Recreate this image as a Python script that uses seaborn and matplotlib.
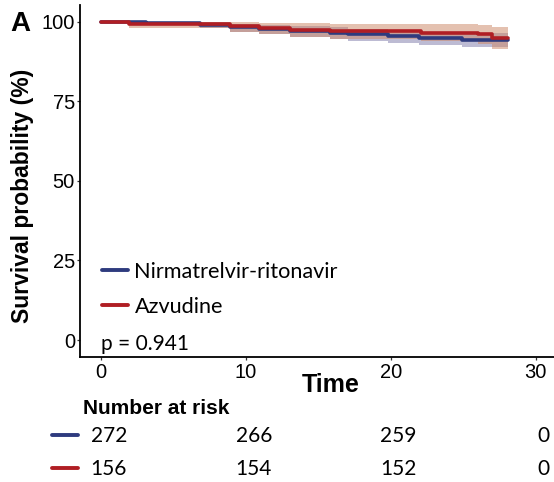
import matplotlib
matplotlib.use("Agg")
import matplotlib.pyplot as plt
from matplotlib.lines import Line2D
from matplotlib.transforms import blended_transform_factory
import numpy as np
import pandas as pd
import seaborn as sns

# ---------------- data ----------------
groups = ["Nirmatrelvir-ritonavir", "Azvudine"]
end_time = 28.1

nr_times = [0, 3.1, 6.8, 8.9, 10.9, 13.0, 15.8, 17.0, 19.8, 21.9, 24.9]
nr_surv = [100, 99.6, 99.0, 98.3, 97.6, 97.0, 96.6, 96.0, 95.5, 94.8, 94.2]
nr_upper = [100, 100, 99.8, 99.4, 98.9, 98.5, 98.2, 97.8, 97.4, 96.9, 96.4]
nr_lower = [100, 98.9, 97.9, 96.9, 96.0, 95.2, 94.7, 94.0, 93.4, 92.6, 91.9]

az_times = [0, 1.9, 8.9, 10.9, 13.0, 15.8, 22.1, 26.0, 27.0]
az_surv = [100, 99.3, 98.6, 98.1, 97.5, 97.2, 96.6, 96.0, 94.8]
az_upper = [100, 100, 99.9, 99.7, 99.5, 99.4, 99.2, 98.9, 98.2]
az_lower = [100, 98.0, 96.8, 96.0, 95.1, 94.6, 93.8, 93.0, 91.4]

risk_times = [0, 10, 20, 30]
risk_nr = [272, 266, 259, 0]
risk_az = [156, 154, 152, 0]

p_label = "p = 0.941"
x_ticks = [0, 10, 20, 30]
y_ticks = [0, 25, 50, 75, 100]

line_colors = {"Nirmatrelvir-ritonavir": "#2E3B7E", "Azvudine": "#B01E24"}
band_colors = {"Nirmatrelvir-ritonavir": "#7C78A8", "Azvudine": "#CB8563"}

# ---------------- build table ----------------
def ext(t, v):
    return list(t) + [end_time], list(v) + [v[-1]]

rows = []
for g, t, s in [(groups[0], nr_times, nr_surv), (groups[1], az_times, az_surv)]:
    tt, ss = ext(t, s)
    for a, b in zip(tt, ss):
        rows.append({"time": a, "surv": b, "group": g})
df = pd.DataFrame(rows)

sns.set_style("ticks")
plt.rcParams["font.family"] = ["Liberation Sans", "DejaVu Sans"]
plt.rcParams["text.color"] = "black"
plt.rcParams["axes.labelcolor"] = "black"

W, H = 554, 482
fig = plt.figure(figsize=(W / 100, H / 100), dpi=100)
left_px, bottom_px, top_px = 79.5, 357, 5
ax = fig.add_axes([left_px / W, 1 - bottom_px / H, 1 - left_px / W, (bottom_px - top_px) / H])

# confidence bands
for g, t, lo, up in [(groups[0], nr_times, nr_lower, nr_upper), (groups[1], az_times, az_lower, az_upper)]:
    tt, ll = ext(t, lo)
    _, uu = ext(t, up)
    ax.fill_between(tt, ll, uu, step="post", color=band_colors[g], alpha=0.5, lw=0)

sns.lineplot(data=df, x="time", y="surv", hue="group", hue_order=groups,
             palette=line_colors, drawstyle="steps-post", estimator=None,
             linewidth=2.6, legend=False, ax=ax)

ax.set_xlim(-1.5, 31.25)
ax.set_ylim(-5.34, 105.25)
ax.set_xticks(x_ticks)
ax.set_yticks(y_ticks)
ax.set_xlabel("")
ax.set_ylabel("")
for s in ["top", "right"]:
    ax.spines[s].set_visible(False)
for s in ["left", "bottom"]:
    ax.spines[s].set_color("black")
    ax.spines[s].set_linewidth(1.3)
ax.tick_params(axis="both", length=2.5, width=0.9, color="#333333", labelsize=14.5,
               labelcolor="black")
ax.tick_params(axis="y", pad=0.8)
ax.tick_params(axis="x", pad=2.0)

# legend
handles = [Line2D([], [], color=line_colors[g], lw=2.8) for g in groups]
leg = ax.legend(handles, groups, loc="upper left", frameon=False,
                bbox_to_anchor=((102 - left_px) / (W - left_px), (bottom_px - 262) / (bottom_px - top_px)),
                prop={"family": ["Lato", "DejaVu Sans"], "size": 15.6},
                handlelength=1.2, handletextpad=0.3, labelspacing=0.68,
                borderpad=0, borderaxespad=0)
for t in leg.get_texts():
    t.set_color("black")

ax.text(0, -3.0, p_label, fontsize=15, family=["Lato", "DejaVu Sans"], va="baseline", ha="left")

# labels
fig.text(331 / W, 1 - 391.7 / H, "Time", fontsize=18, fontweight="bold", ha="center", va="baseline")
fig.text(23 / W, 1 - 196 / H, "Survival probability (%)", fontsize=16.5, fontweight="bold",
         rotation=90, ha="center", va="center")
fig.text(10 / W, 1 - 31 / H, "A", fontsize=20, fontweight="bold", ha="left", va="baseline")

# number at risk table
fig.text(83.3 / W, 1 - 414.5 / H, "Number at risk", fontsize=15, fontweight="bold", ha="left", va="baseline")
trans = blended_transform_factory(ax.transData, fig.transFigure)
for vals, base_px, g in [(risk_nr, 442, groups[0]), (risk_az, 475, groups[1])]:
    for t, v in zip(risk_times, vals):
        ax.annotate(str(v), xy=(t, 1 - base_px / H), xycoords=trans, xytext=(5.5, 0),
                    textcoords="offset points", ha="center", va="baseline",
                    fontsize=15, family=["Lato", "DejaVu Sans"], annotation_clip=False)
    yl = 1 - (base_px - 7.5) / H
    fig.add_artist(Line2D([51.7 / W, 78.3 / W], [yl, yl], transform=fig.transFigure,
                          color=line_colors[g], lw=2.8))

fig.savefig("out.png", dpi=100)
